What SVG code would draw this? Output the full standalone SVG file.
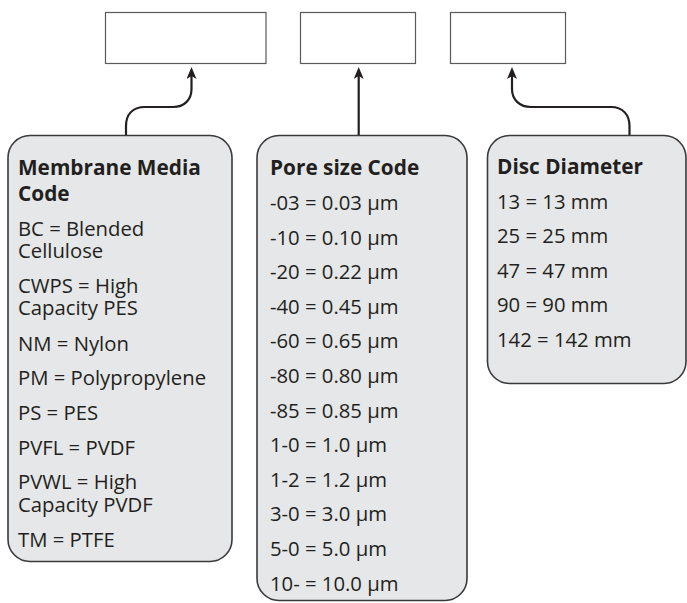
<svg xmlns="http://www.w3.org/2000/svg" width="687" height="603" viewBox="0 0 687 603">
<defs>
<style>
.slot{fill:#ffffff;stroke:#58595b;stroke-width:1.2}
.card{fill:#e6e7e8;stroke:#3a3a3c;stroke-width:1.6}
.conn{fill:none;stroke:#231f20;stroke-width:2.2}
text{font-family:"Open Sans","Liberation Sans",sans-serif;fill:#231f20}
.t{font-size:20.8px;font-weight:bold}
.b{font-size:20.3px}
</style>
<marker id="ah" markerUnits="userSpaceOnUse" viewBox="0 0 12 10" refX="7" refY="5" markerWidth="12" markerHeight="10" orient="auto">
<path d="M0,0 L12,5 L0,10 L3,5 z" fill="#231f20"/>
</marker>
</defs>
<rect width="687" height="603" fill="#ffffff"/>
<g id="slot-media"><rect class="slot" x="105.5" y="12.5" width="160.5" height="51"/></g>
<g id="slot-pore"><rect class="slot" x="300.5" y="12.5" width="115" height="51"/></g>
<g id="slot-disc"><rect class="slot" x="450.5" y="12.5" width="115" height="51"/></g>
<g id="connectors">
<path class="conn" marker-end="url(#ah)" d="M126,136 V126 C126,115 132,107 145,107 H173 C184,107 191.5,100 191.5,89 V72"/>
<path class="conn" marker-end="url(#ah)" d="M358.7,136 V72"/>
<path class="conn" marker-end="url(#ah)" d="M629.5,136 V126 C629.5,115 623,107 611,107 H531 C520,107 512,100 512,89 V72"/>
</g>
<g id="card-media">
<rect class="card" x="8" y="135.5" width="224" height="426" rx="22"/>
<text class="t" x="18" y="175">Membrane Media<tspan x="18" dy="26">Code</tspan></text>
<text class="b" x="18" y="236">BC = Blended<tspan x="18" dy="22">Cellulose</tspan></text>
<text class="b" x="18" y="293">CWPS = High<tspan x="18" dy="22">Capacity PES</tspan></text>
<text class="b" x="18" y="350.5">NM = Nylon</text>
<text class="b" x="18" y="385">PM = Polypropylene</text>
<text class="b" x="18" y="420">PS = PES</text>
<text class="b" x="18" y="454.5">PVFL = PVDF</text>
<text class="b" x="18" y="489">PVWL = High<tspan x="18" dy="22.5">Capacity PVDF</tspan></text>
<text class="b" x="18" y="546.5">TM = PTFE</text>
</g>
<g id="card-pore">
<rect class="card" x="257" y="135.5" width="210" height="465" rx="22"/>
<text class="t" x="270" y="175">Pore size Code</text>
<text class="b" x="270" y="210">-03 = 0.03 µm</text>
<text class="b" x="270" y="244.6">-10 = 0.10 µm</text>
<text class="b" x="270" y="279.2">-20 = 0.22 µm</text>
<text class="b" x="270" y="313.8">-40 = 0.45 µm</text>
<text class="b" x="270" y="348.4">-60 = 0.65 µm</text>
<text class="b" x="270" y="383">-80 = 0.80 µm</text>
<text class="b" x="270" y="417.6">-85 = 0.85 µm</text>
<text class="b" x="270" y="452.2">1-0 = 1.0 µm</text>
<text class="b" x="270" y="486.8">1-2 = 1.2 µm</text>
<text class="b" x="270" y="521.4">3-0 = 3.0 µm</text>
<text class="b" x="270" y="556">5-0 = 5.0 µm</text>
<text class="b" x="270" y="590.6">10- = 10.0 µm</text>
</g>
<g id="card-disc">
<rect class="card" x="487.5" y="135.5" width="198.5" height="248" rx="22"/>
<text class="t" x="497" y="173.5">Disc Diameter</text>
<text class="b" x="497" y="208.5">13 = 13 mm</text>
<text class="b" x="497" y="243.1">25 = 25 mm</text>
<text class="b" x="497" y="277.7">47 = 47 mm</text>
<text class="b" x="497" y="312.3">90 = 90 mm</text>
<text class="b" x="497" y="346.9">142 = 142 mm</text>
</g>
</svg>
